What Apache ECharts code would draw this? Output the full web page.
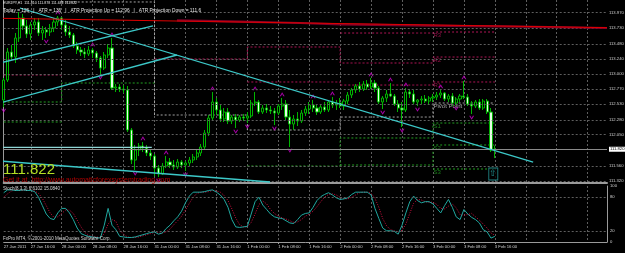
<!DOCTYPE html>
<html>
<head>
<meta charset="utf-8">
<script src="https://cdn.jsdelivr.net/npm/echarts@6/dist/echarts.min.js"></script>
<style>
  html, body { margin: 0; padding: 0; background: #000; }
  #chart { width: 625px; height: 253px; }
</style>
</head>
<body>
<div id="chart"></div>
<script>
// EURJPY H1, 27 Jan 09:00 -> 3 Feb 16:00
const days = ['27 Jan', '28 Jan', '31 Jan', '1 Feb', '2 Feb', '3 Feb', '4 Feb'];
const dayFirstHour = [9, 0, 0, 0, 0, 0, 0];
const dayLastHour = [23, 23, 23, 23, 23, 23, 21];
const barCount = 128;

const opens = [
  112.595, 112.910, 113.351, 113.272, 113.572, 113.887, 113.761, 113.635,
  113.776, 113.824, 113.650, 113.698, 113.666, 113.729, 113.824, 113.887,
  113.776, 113.666, 113.619, 113.446, 113.383, 113.351, 113.320, 113.383,
  113.335, 113.257, 113.099, 113.304, 113.414, 112.784, 112.800, 112.768,
  112.753, 112.123, 111.650, 111.808, 111.871, 111.839, 111.761, 111.713,
  111.524, 111.430, 111.556, 111.619, 111.572, 111.540, 111.619, 111.572,
  111.603, 111.650, 111.698, 111.761, 111.855, 112.076, 112.312, 112.564,
  112.438, 112.296, 112.406, 112.264, 112.327, 112.280, 112.327, 112.312,
  112.343, 112.548, 112.564, 112.406, 112.469, 112.438, 112.422, 112.390,
  112.501, 112.532, 112.327, 112.217, 112.296, 112.264, 112.390, 112.453,
  112.516, 112.469, 112.406, 112.485, 112.438, 112.564, 112.516, 112.548,
  112.501, 112.579, 112.674, 112.753, 112.816, 112.768, 112.847, 112.800,
  112.863, 112.784, 112.564, 112.627, 112.690, 112.658, 112.532, 112.469,
  112.438, 112.721, 112.690, 112.564, 112.595, 112.611, 112.579, 112.627,
  112.642, 112.674, 112.705, 112.611, 112.658, 112.548, 112.611, 112.658,
  112.642, 112.532, 112.501, 112.564, 112.469, 112.579, 112.406, 111.810
];
const highs = [
  112.942, 113.414, 113.461, 113.650, 113.981, 113.950, 113.855, 113.824,
  113.887, 113.887, 113.761, 113.745, 113.792, 113.887, 113.918, 113.902,
  113.855, 113.761, 113.650, 113.509, 113.430, 113.414, 113.446, 113.414,
  113.367, 113.288, 113.351, 113.477, 113.572, 112.847, 112.847, 112.831,
  112.816, 112.154, 111.887, 111.918, 111.934, 111.887, 111.808, 111.745,
  111.572, 111.603, 111.713, 111.682, 111.650, 111.666, 111.650, 111.635,
  111.698, 111.745, 111.808, 111.902, 112.123, 112.359, 112.721, 112.627,
  112.532, 112.469, 112.469, 112.359, 112.375, 112.359, 112.375, 112.406,
  112.595, 112.721, 112.595, 112.516, 112.532, 112.501, 112.469, 112.532,
  112.627, 112.595, 112.438, 112.359, 112.406, 112.438, 112.501, 112.564,
  112.595, 112.532, 112.516, 112.564, 112.595, 112.642, 112.595, 112.627,
  112.611, 112.721, 112.784, 112.847, 112.879, 112.894, 112.910, 112.942,
  112.910, 112.816, 112.658, 112.753, 112.863, 112.690, 112.595, 112.564,
  112.784, 112.768, 112.753, 112.611, 112.658, 112.674, 112.658, 112.690,
  112.721, 112.753, 112.721, 112.690, 112.705, 112.642, 112.690, 112.894,
  112.690, 112.579, 112.595, 112.611, 112.611, 112.611, 112.469, 111.878
];
const lows = [
  112.485, 112.879, 113.225, 113.178, 113.509, 113.698, 113.572, 113.540,
  113.698, 113.603, 113.540, 113.572, 113.603, 113.666, 113.761, 113.698,
  113.603, 113.572, 113.414, 113.320, 113.288, 113.257, 113.288, 113.257,
  113.194, 113.005, 113.068, 113.257, 112.753, 112.721, 112.721, 112.705,
  112.091, 111.587, 111.493, 111.713, 111.776, 111.713, 111.650, 111.398,
  111.383, 111.414, 111.524, 111.524, 111.493, 111.509, 111.524, 111.477,
  111.556, 111.603, 111.650, 111.713, 111.808, 112.028, 112.280, 112.359,
  112.249, 112.249, 112.217, 112.217, 112.154, 112.249, 112.264, 112.233,
  112.312, 112.501, 112.375, 112.375, 112.390, 112.375, 112.201, 112.359,
  112.438, 112.280, 111.855, 112.123, 112.186, 112.233, 112.343, 112.375,
  112.406, 112.359, 112.375, 112.406, 112.406, 112.469, 112.438, 112.469,
  112.438, 112.532, 112.627, 112.705, 112.721, 112.737, 112.753, 112.768,
  112.721, 112.532, 112.453, 112.564, 112.642, 112.501, 112.406, 112.170,
  112.406, 112.627, 112.532, 112.501, 112.532, 112.548, 112.532, 112.564,
  112.595, 112.627, 112.579, 112.564, 112.501, 112.516, 112.564, 112.611,
  112.501, 112.375, 112.469, 112.438, 112.438, 112.375, 111.776, 111.681
];
const closes = [
  112.910, 113.351, 113.272, 113.572, 113.887, 113.761, 113.635, 113.776,
  113.824, 113.650, 113.698, 113.666, 113.729, 113.824, 113.887, 113.776,
  113.666, 113.619, 113.446, 113.383, 113.351, 113.320, 113.383, 113.335,
  113.257, 113.099, 113.304, 113.414, 112.784, 112.800, 112.768, 112.753,
  112.123, 111.650, 111.808, 111.871, 111.839, 111.761, 111.713, 111.524,
  111.430, 111.556, 111.619, 111.572, 111.540, 111.619, 111.572, 111.603,
  111.650, 111.698, 111.761, 111.855, 112.076, 112.312, 112.564, 112.438,
  112.296, 112.406, 112.264, 112.327, 112.280, 112.327, 112.312, 112.343,
  112.548, 112.564, 112.406, 112.469, 112.438, 112.422, 112.390, 112.501,
  112.532, 112.327, 112.217, 112.296, 112.264, 112.390, 112.453, 112.516,
  112.469, 112.406, 112.485, 112.438, 112.564, 112.516, 112.548, 112.501,
  112.579, 112.674, 112.753, 112.816, 112.768, 112.847, 112.800, 112.863,
  112.784, 112.564, 112.627, 112.690, 112.658, 112.532, 112.469, 112.438,
  112.721, 112.690, 112.564, 112.595, 112.611, 112.579, 112.627, 112.642,
  112.674, 112.705, 112.611, 112.658, 112.548, 112.611, 112.658, 112.642,
  112.532, 112.501, 112.564, 112.469, 112.579, 112.406, 111.808, 111.822
];

const stochMain = [
  88, 93, 93, 92, 92, 93, 92, 92,
  90, 80, 65, 50, 42, 40, 52, 60,
  60, 52, 40, 25, 15, 12, 10, 9,
  8, 7, 30, 60, 30, 22, 10, 9,
  8, 8, 9, 11, 13, 15, 17, 18,
  14, 16, 24, 30, 38, 45, 55, 70,
  82, 89, 89, 89, 90, 92, 93, 89,
  84, 76, 62, 40, 27, 26, 27, 28,
  50, 72, 80, 66, 58, 50, 45, 43,
  42, 38, 34, 33, 40, 48, 51, 52,
  62, 74, 81, 85, 88, 84, 79, 76,
  77, 79, 85, 89, 89, 89, 89, 84,
  60, 42, 25, 20, 20, 19, 14, 30,
  52, 72, 82, 74, 70, 72, 72, 68,
  60, 52, 65, 76, 62, 45, 40, 58,
  50, 44, 40, 34, 22, 18, 7, 10
];
const stochSignal = [
  80, 86, 91, 93, 92, 92, 92, 92,
  91, 87, 78, 65, 52, 44, 45, 51,
  57, 57, 51, 39, 27, 17, 12, 10,
  9, 8, 15, 32, 40, 37, 21, 14,
  9, 8, 8, 9, 11, 13, 15, 17,
  16, 16, 18, 23, 31, 38, 46, 57,
  69, 80, 87, 89, 89, 90, 92, 91,
  89, 83, 74, 59, 43, 31, 27, 27,
  35, 50, 67, 73, 68, 58, 51, 46,
  43, 41, 38, 35, 36, 40, 46, 50,
  55, 63, 72, 80, 85, 86, 84, 80,
  77, 77, 80, 84, 88, 89, 89, 87,
  78, 62, 42, 29, 22, 20, 18, 21,
  32, 51, 69, 76, 75, 72, 71, 71,
  67, 60, 59, 64, 68, 61, 49, 48,
  49, 51, 45, 39, 32, 25, 16, 12
];

const priceTicks = [111.320, 111.560, 112.045, 112.285, 112.525, 112.765, 113.005, 113.240, 113.480, 113.730, 113.970];
const bidPrice = 111.822;
const stochLevels = [20, 80];
const stochLabels = [0, 20, 80, 100];

// daily pivot levels (27 Jan .. 3 Feb), null = off chart
const pivotDays = [[0, 14], [15, 38], [39, 62], [63, 86], [87, 110], [111, 127]];
const pivotR3 = [null, null, null, null, 113.650, 113.666];
const pivotR2 = [null, null, 113.241, 113.430, 113.178, 113.272];
const pivotR1 = [112.989, null, null, 112.879, 112.831, 112.879];
const pivotP  = [null, 114.139, 112.359, 112.123, 112.327, 112.548];
const pivotS1 = [112.564, 112.863, null, 111.556, 111.997, 112.233];
const pivotS2 = [112.249, null, null, null, 111.572, 111.887];
const pivotS3 = [null, null, null, null, null, 111.509];

const fractalUp = [14, 23, 28, 36, 42, 54, 65, 72, 80, 85, 95, 100, 104, 113, 119];
const fractalDown = [0, 11, 25, 34, 40, 47, 60, 63, 70, 74, 98, 103, 107, 117, 121];

// drawn objects: [bar position, price]
const cyanLines = [
  [[4.2, 114.044], [136.9, 111.619]],
  [[-1, 113.178], [38.6, 113.761]],
  [[-1, 112.548], [44.8, 113.304]],
  [[-1, 111.635], [68.9, 111.304]]
];
const flatLine = [[-1, 111.850], [38.3, 111.850]];
const redLine = [[-1, 113.882], [156, 113.734]];
const maLine = [[44.8, 113.850], [61.1, 113.831], [76.6, 113.808], [87, 113.787], [110.2, 113.768], [133.5, 113.750], [156, 113.729]];
const signalArrow = [126.6, 111.43];

// categories
const categories = [];
const catHour = [];
days.forEach((d, k) => {
  for (let h = dayFirstHour[k]; h <= dayLastHour[k]; h++) {
    categories.push(d + ' ' + (h < 10 ? '0' + h : h) + ':00');
    catHour.push(h);
  }
});
const lastSlot = categories.length - 1;

const candleData = opens.map((o, i) => [o, closes[i], lows[i], highs[i]]);

function levelSeries(levels) {
  const out = [];
  pivotDays.forEach((r, k) => {
    for (let i = r[0]; i <= r[1]; i++) out.push(levels[k]);
  });
  return out;
}

const gridLine = { color: '#5e5e5e', type: [2, 2], width: 1 };
const txtFont = 'Liberation Sans';
const axisTxt = { color: '#cfcfcf', fontSize: 4.2, fontFamily: txtFont };
const isGridSlot = (i) => catHour[i] % 8 === 0;

const chevron = 'path://M0,8 L5,0 L10,8 L7.5,8 L5,3.5 L2.5,8 Z';

const pivotStyle = (color) => ({ color: color, width: 1, type: [2, 2] });
const pivotDefs = [
  ['R3', pivotR3, '#b01456'], ['R2', pivotR2, '#b01456'], ['R1', pivotR1, '#b01456'],
  ['Pivot Point', pivotP, '#a8a8a8'],
  ['S1', pivotS1, '#22a022'], ['S2', pivotS2, '#22a022'], ['S3', pivotS3, '#22a022']
];

const series = [];

// pivot step lines
pivotDefs.forEach(([name, lv, col]) => {
  series.push({
    type: 'line', xAxisIndex: 0, yAxisIndex: 0, data: levelSeries(lv),
    step: 'end', symbol: 'none', silent: true, lineStyle: pivotStyle(col), z: 1
  });
});
series.push({
  type: 'scatter', xAxisIndex: 0, yAxisIndex: 0, symbolSize: 1, silent: true, z: 2,
  itemStyle: { color: 'transparent' },
  data: pivotDefs.map(([name, lv, col]) => ({
    name: name, value: [111, lv[5]],
    label: { show: true, formatter: '{b}', color: col === '#a8a8a8' ? '#c8c8c8' : col, position: [1, 1],
      fontSize: 6, fontFamily: txtFont, align: 'left', verticalAlign: 'top' }
  }))
});

// candles
series.push({
  type: 'candlestick', xAxisIndex: 0, yAxisIndex: 0, data: candleData, barWidth: 2.6, z: 3,
  itemStyle: { color: '#000000', color0: '#e4ffe4', borderColor: '#00b400', borderColor0: '#00b400', borderWidth: 1 },
  markLine: {
    silent: true, symbol: 'none', animation: false,
    lineStyle: gridLine,
    label: { position: 'end', distance: 2, formatter: (p) => p.value.toFixed(3), ...axisTxt },
    data: priceTicks.map(v => ({ yAxis: v })).concat([{
      yAxis: bidPrice,
      lineStyle: { color: '#8a8a8a', type: 'solid', width: 1 },
      label: { backgroundColor: '#ffffff', color: '#000', padding: [1, 2, 0, 1] }
    }])
  }
});

// fractals
series.push({
  type: 'scatter', xAxisIndex: 0, yAxisIndex: 0, symbol: chevron, symbolSize: [5, 4], silent: true, z: 4,
  itemStyle: { color: '#d000d0' },
  data: fractalUp.map(i => [i, highs[i] + 0.06])
});
series.push({
  type: 'scatter', xAxisIndex: 0, yAxisIndex: 0, symbol: chevron, symbolSize: [5, 4], symbolRotate: 180, silent: true, z: 4,
  itemStyle: { color: '#d000d0' },
  data: fractalDown.map(i => [i, lows[i] - 0.06])
});

// drawn lines on the value x axis
cyanLines.forEach(seg => series.push({
  type: 'line', xAxisIndex: 2, yAxisIndex: 0, data: seg, symbol: 'none', silent: true, z: 5,
  lineStyle: { color: '#3cc8c8', width: 1.3 }
}));
series.push({ type: 'line', xAxisIndex: 2, yAxisIndex: 0, data: flatLine, symbol: 'none', silent: true, z: 5,
  lineStyle: { color: '#8fd6d6', width: 1.3 } });
series.push({ type: 'line', xAxisIndex: 2, yAxisIndex: 0, data: maLine, symbol: 'none', silent: true, z: 5,
  lineStyle: { color: '#80002a', width: 2.2 } });
series.push({ type: 'line', xAxisIndex: 2, yAxisIndex: 0, data: redLine, symbol: 'none', silent: true, z: 6,
  lineStyle: { color: '#e00000', width: 1 } });
series.push({
  type: 'scatter', xAxisIndex: 2, yAxisIndex: 0, data: [signalArrow], symbol: 'rect', symbolSize: [9, 12], silent: true, z: 6,
  itemStyle: { color: '#000', borderColor: '#2aa8a8', borderWidth: 1 },
  label: { show: true, formatter: '\u21E7', position: 'inside', color: '#2ab8b8', fontSize: 9 }
});

// stochastic
series.push({
  type: 'line', xAxisIndex: 1, yAxisIndex: 1, data: stochSignal, symbol: 'none', silent: true, z: 3,
  lineStyle: { color: '#d01040', width: 1, type: [1, 1.5] }
});
series.push({
  type: 'line', xAxisIndex: 1, yAxisIndex: 1, data: stochMain, symbol: 'none', silent: true, z: 4,
  lineStyle: { color: '#20a8a0', width: 1 },
  markLine: { silent: true, symbol: 'none', label: { show: false }, lineStyle: gridLine,
    data: stochLevels.map(v => ({ yAxis: v })) }
});

const chart = echarts.init(document.getElementById('chart'), null, { renderer: 'canvas' });
chart.setOption({
  animation: false,
  backgroundColor: '#000000',
  grid: [
    { left: 3.7, right: 18, top: 0, height: 183 },
    { left: 3.7, right: 18, top: 186, height: 56 }
  ],
  xAxis: [
    { type: 'category', gridIndex: 0, data: categories, boundaryGap: false,
      axisLine: { show: true, lineStyle: { color: '#9a9a9a', width: 2 } },
      axisTick: { show: false }, axisLabel: { show: false },
      splitLine: { show: true, interval: (i) => i > 0 && isGridSlot(i), lineStyle: gridLine } },
    { type: 'category', gridIndex: 1, data: categories, boundaryGap: false,
      axisLine: { show: true, lineStyle: { color: '#9a9a9a', width: 1 } },
      axisTick: { show: true, interval: (i) => i < barCount && isGridSlot(i), length: 2, lineStyle: { color: '#9a9a9a' } },
      axisLabel: { show: true, interval: (i) => i === 0 || (i < barCount && isGridSlot(i)), align: 'left', margin: 3,
        formatter: (v, i) => i === 0 ? '27 Jan 2011' : v, ...axisTxt },
      splitLine: { show: true, interval: (i) => i > 0 && isGridSlot(i), lineStyle: gridLine } },
    { type: 'value', gridIndex: 0, min: 0, max: lastSlot, show: false }
  ],
  yAxis: [
    { type: 'value', gridIndex: 0, position: 'right', min: 111.2885, max: 114.170,
      axisLine: { show: true, lineStyle: { color: '#9a9a9a' } },
      axisTick: { show: false }, axisLabel: { show: false }, splitLine: { show: false } },
    { type: 'value', gridIndex: 1, position: 'right', min: 0, max: 100, interval: 20,
      axisLine: { show: true, lineStyle: { color: '#9a9a9a' } },
      axisTick: { show: false }, splitLine: { show: false },
      axisLabel: { margin: 3, formatter: (v) => stochLabels.includes(v) ? String(v) : '', ...axisTxt } }
  ],
  series: series,
  graphic: [
    { type: 'text', left: 3, top: 1, z: 100, style: { text: 'EURJPY,H1  111.810 111.878 111.681 111.822', fill: '#e8e8e8', font: '3.6px ' + txtFont } },
    { type: 'text', left: 3, top: 8, z: 100, style: { text: 'Today = 126   |   ATR = 136   |   ATR Projection Up = 112.96   |   ATR Projection Down = 111.6', fill: '#e8e8e8', font: '4.8px ' + txtFont } },
    { type: 'text', left: 3, top: 162, z: 100, style: { text: '111.822', fill: '#b4e024', font: '15px ' + txtFont } },
    { type: 'text', left: 3, top: 177, z: 100, style: { text: 'Get it at  http://www.automaticforexsystemtrading.com', fill: '#b00000', font: '7px ' + txtFont } },
    { type: 'text', left: 3, top: 186, z: 100, style: { text: 'Stoch(8,3,3) 6.6102 15.0840', fill: '#d8d8d8', font: '4.5px ' + txtFont } },
    { type: 'text', left: 3, top: 236, z: 100, style: { text: 'FxPro MT4, \u00A9 2001-2010 MetaQuotes Software Corp.', fill: '#d8d8d8', font: '4.5px ' + txtFont } }
  ]
});
</script>
</body>
</html>
